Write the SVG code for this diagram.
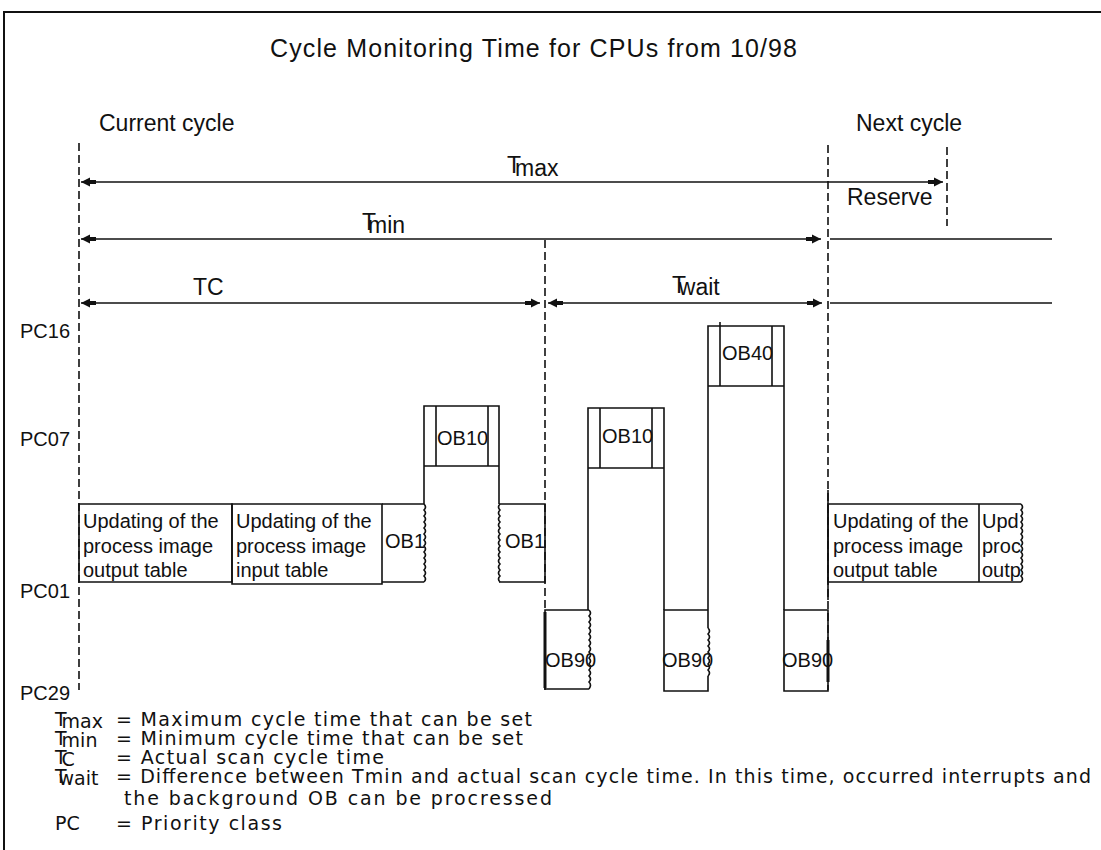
<svg xmlns="http://www.w3.org/2000/svg" width="1101" height="850" viewBox="0 0 1101 850">
<style>
.ln{stroke:#111;stroke-width:1.6;fill:none}
.thk{stroke:#111;stroke-width:3;fill:none}
.dash{stroke:#111;stroke-width:1.6;fill:none;stroke-dasharray:8 4}
.lbl{font-family:"Liberation Sans",Arial,sans-serif;font-size:23px;fill:#111}
.box{font-family:"Liberation Sans",Arial,sans-serif;font-size:20px;fill:#111}
.leg{font-family:"DejaVu Sans",sans-serif;font-size:19px;fill:#111}
.ttl{font-family:"Liberation Sans",Arial,sans-serif;font-size:25px;fill:#111}
</style>
<defs>
<marker id="ah" viewBox="0 0 16 10" refX="16" refY="5" markerWidth="16" markerHeight="10" markerUnits="userSpaceOnUse" orient="auto-start-reverse"><path d="M16,5 L7,0.5 L7,3 L1,3 L1,7 L7,7 L7,9.5 Z" fill="#111"/></marker>
</defs>
<rect fill="#ffffff" width="1101" height="850"/>
<path d="M4,850 V12 H1101" stroke="#111" stroke-width="2" fill="none"/>

<text class="ttl" x="270" y="57" textLength="527" lengthAdjust="spacing">Cycle Monitoring Time for CPUs from 10/98</text>
<text class="lbl" x="99" y="131">Current cycle</text>
<text class="lbl" x="856" y="131">Next cycle</text>

<g id="connectors">
<path class="dash" d="M79,143 V690"/>
<path class="dash" d="M545,240 V690"/>
<path class="dash" d="M828,145 V690"/>
<path class="dash" d="M947,147 V226"/>
<path class="ln" d="M81,182 H943" marker-start="url(#ah)" marker-end="url(#ah)"/>
<path class="ln" d="M81,239 H821" marker-start="url(#ah)" marker-end="url(#ah)"/>
<path class="ln" d="M830,239 H1052"/>
<path class="ln" d="M81,303 H540" marker-start="url(#ah)" marker-end="url(#ah)"/>
<path class="ln" d="M548,303 H822" marker-start="url(#ah)" marker-end="url(#ah)"/>
<path class="ln" d="M830,303 H1052"/>
</g>

<g id="labels">
<text class="lbl" x="507" y="173">T<tspan dx="-6" dy="3">max</tspan></text>
<text class="lbl" x="362" y="230">T<tspan dx="-8" dy="3">min</tspan></text>
<text class="lbl" x="193" y="295">TC</text>
<text class="lbl" x="672" y="293">T<tspan dx="-6" dy="2">wait</tspan></text>
<text class="lbl" x="847" y="205">Reserve</text>
<text class="box" x="20" y="338">PC16</text>
<text class="box" x="20" y="446">PC07</text>
<text class="box" x="20" y="598">PC01</text>
<text class="box" x="20" y="700">PC29</text>
</g>

<g id="pio-out">
<path class="ln" d="M79,504 H232 V582 H79 Z"/>
<text class="box" x="83" y="528">Updating of the</text>
<text class="box" x="83" y="553">process image</text>
<text class="box" x="83" y="577">output table</text>
</g>
<g id="pio-in">
<path class="ln" d="M232,504 H382 V584 H232 Z"/>
<text class="box" x="236" y="528">Updating of the</text>
<text class="box" x="236" y="553">process image</text>
<text class="box" x="236" y="577">input table</text>
</g>
<g id="ob1-a">
<path class="ln" d="M382,504 H424 M382,582 H424"/>
<path class="ln" d="M424,504 q3,3 0,6 3,3 0,6 3,3 0,6 3,3 0,6 3,3 0,6 3,3 0,6 3,3 0,6 3,3 0,6 3,3 0,6 3,3 0,6 3,3 0,6 3,3 0,6 3,3 0,6"/>
<text class="box" x="385" y="548">OB1</text>
</g>
<g id="ob10-a">
<path class="ln" d="M424,504 V406 H499 V504 M424,466 H499 M436,406 V466 M488,406 V466"/>
<text class="box" x="437" y="445">OB10</text>
</g>
<g id="ob1-b">
<path class="ln" d="M499,504 H545 V582 H499"/>
<path class="ln" d="M500,504 q-3,3 0,6 -3,3 0,6 -3,3 0,6 -3,3 0,6 -3,3 0,6 -3,3 0,6 -3,3 0,6 -3,3 0,6 -3,3 0,6 -3,3 0,6 -3,3 0,6 -3,3 0,6 -3,3 0,6"/>
<text class="box" x="505" y="548">OB1</text>
</g>
<g id="ob90-a">
<path class="ln" d="M589,610 H545 V689 H589"/>
<path class="thk" d="M545,612 V688"/>
<path class="ln" d="M589,610 q3,3 0,6 3,3 0,6 3,3 0,6 3,3 0,6 3,3 0,6 3,3 0,6 3,3 0,6 3,3 0,6 3,3 0,6 3,3 0,6 3,3 0,6 3,3 0,6 3,3 0,7"/>
<text class="box" x="545" y="667">OB90</text>
</g>
<g id="ob10-b">
<path class="ln" d="M588,610 V408 H664 V610 M588,468 H664 M600,408 V468 M652,408 V468"/>
<text class="box" x="602" y="443">OB10</text>
</g>
<g id="ob90-b">
<path class="ln" d="M708,610 H664 V691 H708 V676 M708,610 V628"/>
<path class="ln" d="M708,628 q3,3 0,6 3,3 0,6 3,3 0,6 3,3 0,6 3,3 0,6 3,3 0,6 3,3 0,6 3,3 0,6"/>
<text class="box" x="662" y="667">OB90</text>
</g>
<g id="ob40">
<path class="ln" d="M708,610 V326 H784 V610 M708,386 H784 M720,322 V386 M772,326 V386"/>
<text class="box" x="722" y="360">OB40</text>
</g>
<g id="ob90-c">
<path class="ln" d="M784,610 H828 V691 H784 Z"/>
<path class="thk" d="M828,640 V682"/>
<text class="box" x="782" y="667">OB90</text>
</g>
<g id="pio-out-next">
<path class="ln" d="M828,490 V600"/>
<path class="ln" d="M1021,504 H828 V582 H1021 M979,504 V582"/>
<path class="ln" d="M1021,504 q3,3 0,6 3,3 0,6 3,3 0,6 3,3 0,6 3,3 0,6 3,3 0,6 3,3 0,6 3,3 0,6 3,3 0,6 3,3 0,6 3,3 0,6 3,3 0,6 3,3 0,6"/>
<text class="box" x="833" y="528">Updating of the</text>
<text class="box" x="833" y="553">process image</text>
<text class="box" x="833" y="577">output table</text>
<text class="box" x="982" y="528">Upd</text>
<text class="box" x="982" y="553">proc</text>
<text class="box" x="982" y="577">outp</text>
</g>

<g id="legend">
<text class="leg" x="55" y="726">T<tspan dx="-5" dy="2">max</tspan></text>
<text class="leg" x="116" y="726" textLength="416" lengthAdjust="spacing">= Maximum cycle time that can be set</text>
<text class="leg" x="55" y="745">T<tspan dx="-5" dy="2">min</tspan></text>
<text class="leg" x="116" y="745" textLength="407" lengthAdjust="spacing">= Minimum cycle time that can be set</text>
<text class="leg" x="55" y="764">T<tspan dx="-4" dy="2">C</tspan></text>
<text class="leg" x="116" y="764" textLength="268" lengthAdjust="spacing">= Actual scan cycle time</text>
<text class="leg" x="55" y="783">T<tspan dx="-5" dy="2">wait</tspan></text>
<text class="leg" x="116" y="783" textLength="975" lengthAdjust="spacing">= Difference between Tmin and actual scan cycle time. In this time, occurred interrupts and</text>
<text class="leg" x="124" y="805" textLength="428" lengthAdjust="spacing">the background OB can be procressed</text>
<text class="leg" x="55" y="830">PC</text>
<text class="leg" x="116" y="830" textLength="166" lengthAdjust="spacing">= Priority class</text>
</g>
</svg>
